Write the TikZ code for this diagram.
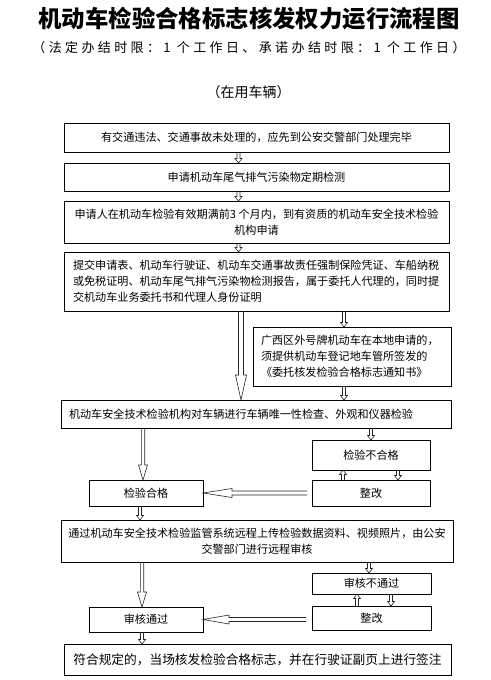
\documentclass[tikz,border=0pt]{standalone}
\usepackage{fontspec}
\setmainfont{Noto Sans CJK SC}
\usetikzlibrary{calc}
\tikzset{
  box/.style={draw, line width=0.7pt, outer sep=0pt, inner sep=0pt, anchor=north west,
    font=\fontsize{11.1}{16}\selectfont},
  arrowline/.style={draw=black!85, line width=0.6pt, line join=miter},
}
% #1 start, #2 end, #3 half shaft, #4 half head, #5 head length
\newcommand\hollowarrow[5]{%
  \coordinate (hA) at #1; \coordinate (hB) at #2;
  \coordinate (hH) at ($(hB)!#5!(hA)$);
  \draw[arrowline] ($(hA)!#3!90:(hB)$) -- ($(hH)!#3!-90:(hA)$) -- ($(hH)!#4!-90:(hA)$)
    -- (hB) -- ($(hH)!#4!90:(hA)$) -- ($(hH)!#3!90:(hA)$) -- ($(hA)!#3!-90:(hB)$);
}
\newcommand\smallarrow[2]{\hollowarrow{#1}{#2}{1.5pt}{3.5pt}{4.5pt}}
\begin{document}
\begin{tikzpicture}[x=1pt,y=-1pt]
\useasboundingbox (0,0) rectangle (490,680);
\node[font=\bfseries\fontsize{23.4}{26}\selectfont] (title) at (249,19) {机动车检验合格标志核发权力运行流程图};
\node[font=\fontsize{13}{15}\selectfont\addfontfeatures{LetterSpace=26}] (sub) at (249,48) {（法定办结时限：1 个工作日、承诺办结时限：1 个工作日）};
\node[font=\fontsize{14}{16}\selectfont] (cat) at (248.5,92) {（在用车辆）};

\node[box, minimum width=385, minimum height=29] (b1) at (64,123) {有交通违法、交通事故未处理的，应先到公安交警部门处理完毕};
\node[box, minimum width=385, minimum height=28] (b2) at (64,163) {申请机动车尾气排气污染物定期检测};
\node[box, minimum width=385, minimum height=42, align=center] (b3) at (64,201) {申请人在机动车检验有效期满前3 个月内，到有资质的机动车安全技术检验\\机构申请};
\node[box, minimum width=385, minimum height=59, align=left, text width=367pt, inner xsep=9pt] (b4) at (64,252) {提交申请表、机动车行驶证、机动车交通事故责任强制保险凭证、车船纳税\\或免税证明、机动车尾气排气污染物检测报告，属于委托人代理的，同时提\\交机动车业务委托书和代理人身份证明};
\node[box, minimum width=198, minimum height=59, align=left, text width=182pt, inner xsep=8pt] (b5) at (253,327) {广西区外号牌机动车在本地申请的，\\须提供机动车登记地车管所签发的\\《委托核发检验合格标志通知书》};
\node[box, minimum width=390, minimum height=28, align=left, text width=374pt, inner xsep=8pt] (b6) at (61,400) {机动车安全技术检验机构对车辆进行车辆唯一性检查、外观和仪器检验};
\node[box, minimum width=118, minimum height=30] (b7) at (312,440) {检验不合格};
\node[box, minimum width=118, minimum height=26] (b8) at (312,480) {整改};
\node[box, minimum width=114, minimum height=26] (b9) at (89,480) {检验合格};
\node[box, minimum width=392, minimum height=42, align=center] (b10) at (61,520) {通过机动车安全技术检验监管系统远程上传检验数据资料、视频照片，由公安\\交警部门进行远程审核};
\node[box, minimum width=119, minimum height=21] (b11) at (312,573) {审核不通过};
\node[box, minimum width=119, minimum height=24] (b12) at (312,606) {整改};
\node[box, minimum width=114, minimum height=25] (b13) at (89,607) {审核通过};
\node[box, minimum width=387, minimum height=31, font=\fontsize{12.7}{15}\selectfont] (b14) at (64,644) {符合规定的，当场核发检验合格标志，并在行驶证副页上进行签注};

% arrows
\smallarrow{($(b1.south)+(-18,0)$)}{($(b2.north)+(-18,0)$)}
\smallarrow{($(b2.south)+(-18,0)$)}{($(b3.north)+(-18,0)$)}
\smallarrow{($(b3.south)+(-18,0)$)}{($(b4.north)+(-18,0)$)}
\coordinate (t5) at ($(b5.north)+(-8,0)$);
\smallarrow{(b4.south -| t5)}{(t5)}
\coordinate (t5s) at ($(b5.south)+(-8,0)$);
\smallarrow{(t5s)}{(b6.north -| t5s)}
\coordinate (t4) at ($(b4.south)+(-15.5,0)$);
\hollowarrow{(t4)}{(b6.north -| t4)}{2.5pt}{5.5pt}{25pt}
\smallarrow{(b6.south -| b7.north)}{(b7.north)}
\coordinate (t9) at ($(b9.north)+(-3,0)$);
\hollowarrow{(b6.south -| t9)}{(t9)}{1.7pt}{4.5pt}{15pt}
\smallarrow{($(b8.north)+(-28,0)$)}{($(b7.south)+(-28,0)$)}
\smallarrow{($(b7.south)+(27,0)$)}{($(b8.north)+(27,0)$)}
\hollowarrow{($(b8.west)+(-5,0)$)}{(b9.east)}{2pt}{4.5pt}{29pt}
\coordinate (t10) at ($(b9.south)+(-6,0)$);
\smallarrow{(t10)}{(b10.north -| t10)}
\coordinate (t11) at ($(b11.north)+(-2.5,0)$);
\smallarrow{(b10.south -| t11)}{(t11)}
\coordinate (t13) at ($(b13.north)+(-4,0)$);
\hollowarrow{(b10.south -| t13)}{(t13)}{1.7pt}{4.5pt}{15pt}
\smallarrow{($(b12.north)+(-14.5,0)$)}{($(b11.south)+(-14.5,0)$)}
\smallarrow{($(b11.south)+(19.5,0)$)}{($(b12.north)+(19.5,0)$)}
\hollowarrow{($(b12.west |- b13.east)+(-6,0)$)}{(b13.east)}{2pt}{4.5pt}{26pt}
\coordinate (t14) at ($(b13.south)+(-4,0)$);
\smallarrow{(t14)}{(b14.north -| t14)}
\end{tikzpicture}
\end{document}
